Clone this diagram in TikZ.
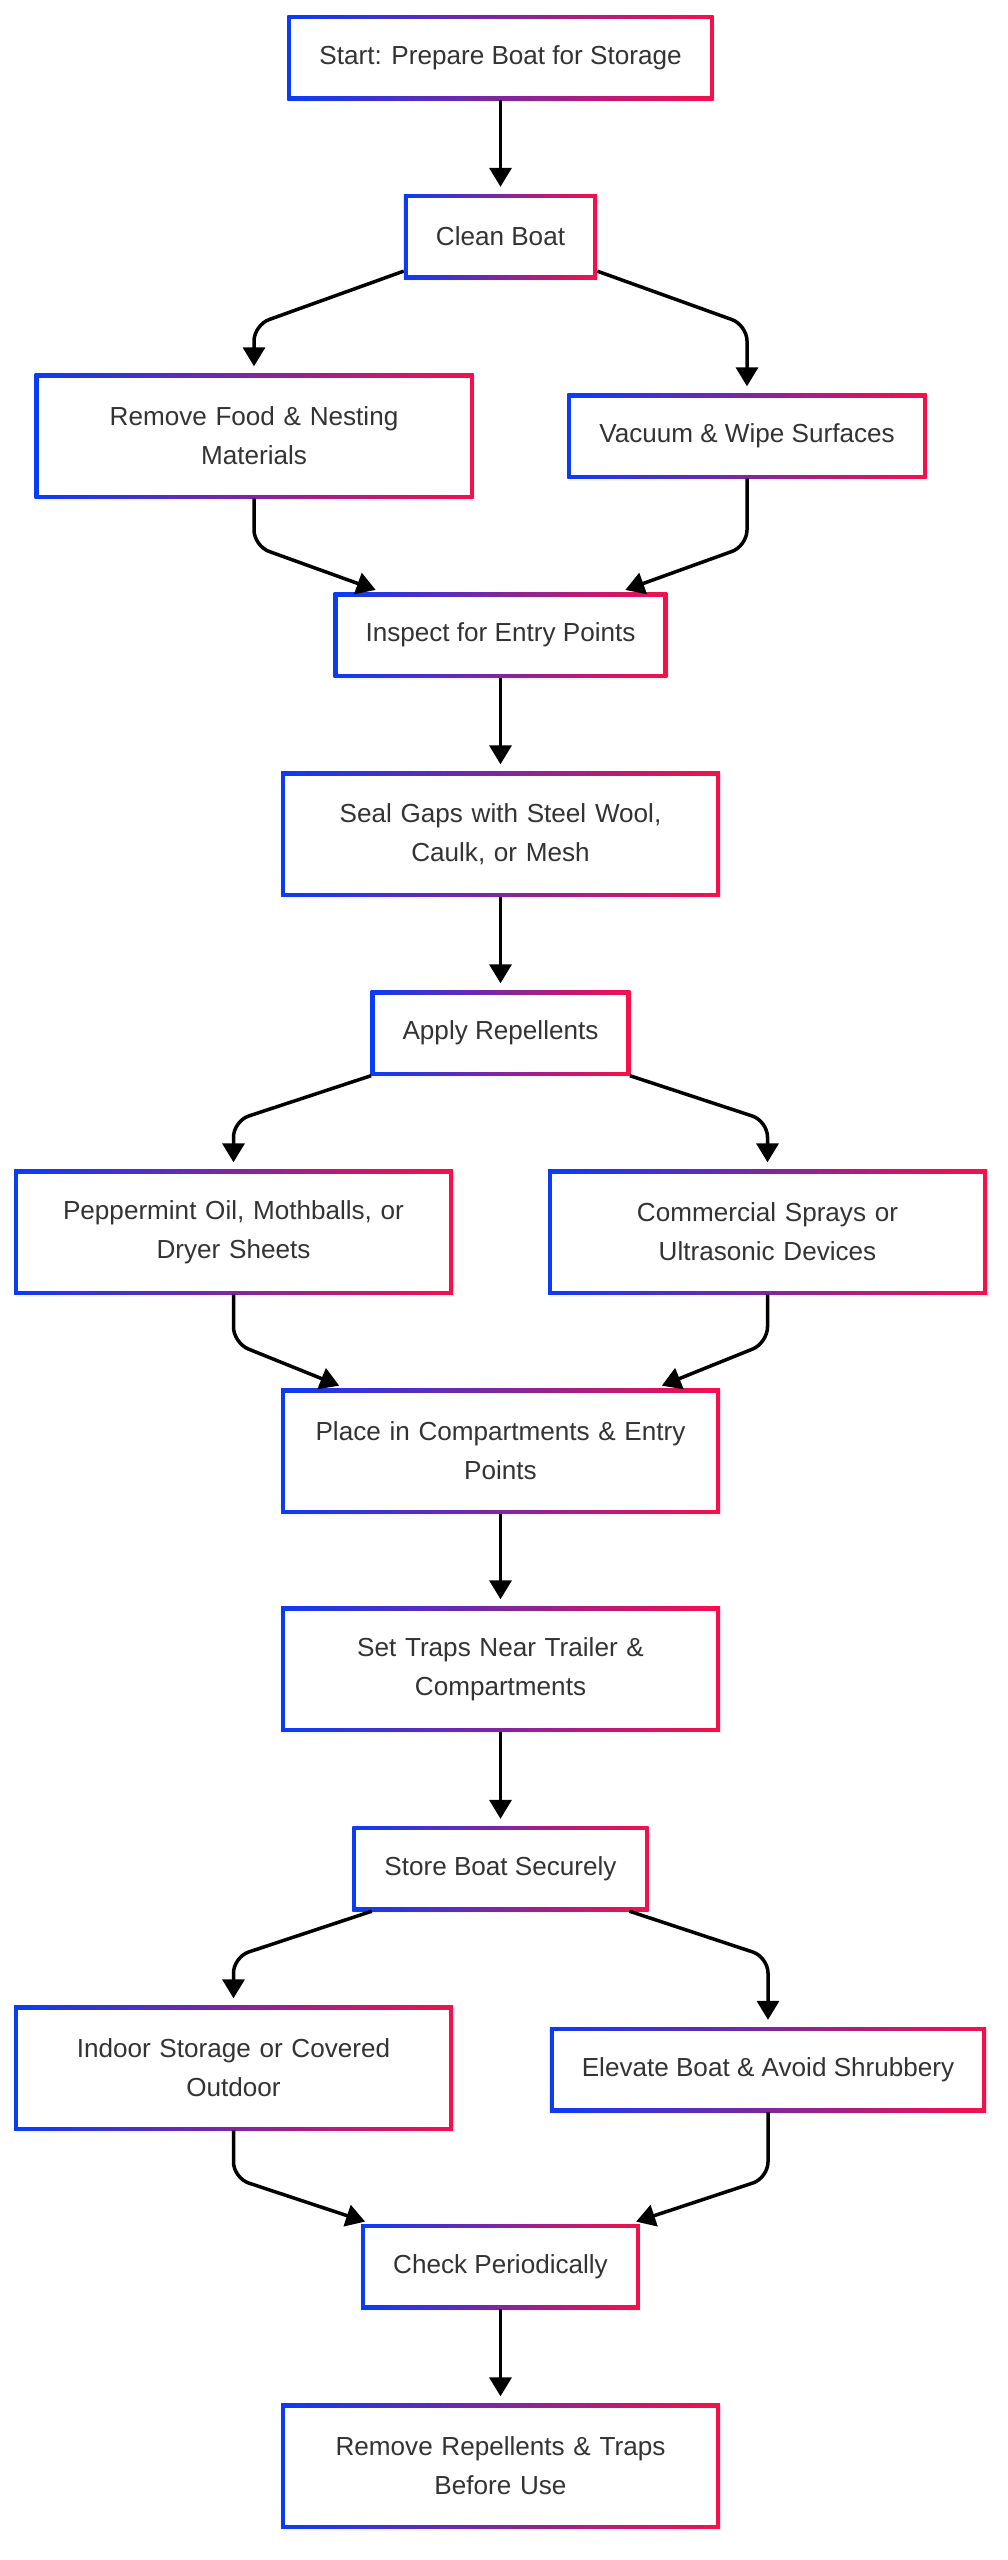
\documentclass[tikz,border=0pt]{standalone}
\usepackage{fontspec}
\setmainfont{Liberation Sans}
\usetikzlibrary{arrows.meta,shadows}
\definecolor{gblue}{HTML}{0A3CF5}
\definecolor{gred}{HTML}{F5104A}
\definecolor{ink}{HTML}{333333}
\begin{document}
\begin{tikzpicture}[x=1pt, y=-1pt,
	box/.style={rectangle, left color=gblue, right color=gred, inner xsep=32pt, minimum height=85pt,
		text=ink, font=\fontsize{26.1}{39}\selectfont,
		drop shadow={opacity=0.08, shadow xshift=1.5pt, shadow yshift=-2pt},
		path picture={\fill[white] ([shift={(4pt,-4pt)}]path picture bounding box.north west)
			rectangle ([shift={(-4pt,4pt)}]path picture bounding box.south east);}},
	wide/.style={box, text width=375pt, align=center, minimum height=125pt},
	flow/.style={line width=3.5pt, rounded corners=16pt, shorten >=7pt, -{Triangle[length=19pt,width=22pt]}}]
		\useasboundingbox (0,0) rectangle (1007,2560);
		\node[box] (start) at (500.5,57.5) {Start: Prepare Boat for Storage};
		\node[box] (clean) at (500.5,236.5) {Clean Boat};
		\node[wide] (food) at (254,436) {Remove Food \& Nesting\\Materials};
		\node[box] (vacuum) at (747,436) {Vacuum \& Wipe Surfaces};
		\node[box] (inspect) at (500.5,635) {Inspect for Entry Points};
		\node[wide] (seal) at (500.5,834) {Seal Gaps with Steel Wool,\\Caulk, or Mesh};
		\node[box] (repel) at (500.5,1033) {Apply Repellents};
		\node[wide] (mint) at (233.5,1232) {Peppermint Oil, Mothballs, or\\Dryer Sheets};
		\node[wide] (spray) at (767.5,1232) {Commercial Sprays or\\Ultrasonic Devices};
		\node[wide] (place) at (500.5,1451) {Place in Compartments \& Entry\\Points};
		\node[wide] (traps) at (500.5,1669) {Set Traps Near Trailer \&\\Compartments};
		\node[box] (store) at (500.5,1868.5) {Store Boat Securely};
		\node[wide] (indoor) at (233.5,2068) {Indoor Storage or Covered\\Outdoor};
		\node[box] (elevate) at (768,2069.5) {Elevate Boat \& Avoid Shrubbery};
		\node[box] (check) at (500.5,2266.5) {Check Periodically};
		\node[wide] (remove) at (500.5,2466) {Remove Repellents \& Traps\\Before Use};
		\draw[flow] (start) -- (clean);
		\draw[flow] (clean) -- (food.north |- 0,325) -- (food);
		\draw[flow] (clean) -- (vacuum.north |- 0,325) -- (vacuum);
		\draw[flow] (food) -- (food.south |- 0,546) -- (inspect);
		\draw[flow] (vacuum) -- (vacuum.south |- 0,546) -- (inspect);
		\draw[flow] (inspect) -- (seal);
		\draw[flow] (seal) -- (repel);
		\draw[flow] (repel) -- (mint.north |- 0,1121) -- (mint);
		\draw[flow] (repel) -- (spray.north |- 0,1121) -- (spray);
		\draw[flow] (mint) -- (mint.south |- 0,1343) -- (place);
		\draw[flow] (spray) -- (spray.south |- 0,1343) -- (place);
		\draw[flow] (place) -- (traps);
		\draw[flow] (traps) -- (store);
		\draw[flow] (store) -- (indoor.north |- 0,1957) -- (indoor);
		\draw[flow] (store) -- (elevate.north |- 0,1957) -- (elevate);
		\draw[flow] (indoor) -- (indoor.south |- 0,2178) -- (check);
		\draw[flow] (elevate) -- (elevate.south |- 0,2178) -- (check);
		\draw[flow] (check) -- (remove);
	\end{tikzpicture}
\end{document}
